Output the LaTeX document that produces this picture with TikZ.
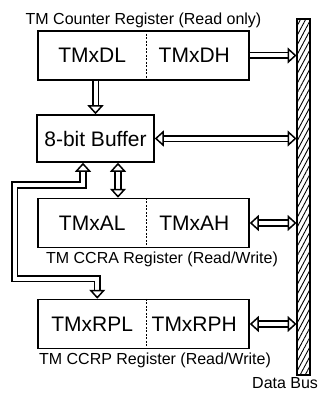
\documentclass[tikz,border=0pt]{standalone}
\usepackage{fontspec}
\setmainfont{Liberation Sans}
\usetikzlibrary{arrows.meta,calc,patterns.meta,positioning}
\newcommand{\regfont}{\fontsize{21}{23}\selectfont}
\newcommand{\lblfont}{\fontsize{16}{18}\selectfont}

\begin{document}
\begin{tikzpicture}[x=1pt,y=-1pt,
  regbox/.style={draw,line width=1.5pt,minimum width=211pt,minimum height=49pt,inner sep=0pt},
  bufbox/.style={draw,line width=1.5pt,minimum width=117pt,minimum height=47pt,inner sep=0pt,font=\regfont},
  busbar/.style={draw,line width=1.5pt,minimum width=13pt,minimum height=356pt,inner sep=0pt,
    pattern={Lines[angle=62,distance=4.5pt,line width=0.9pt]}},
  hollow/.style={draw,double=white,double distance=4pt,line width=1.6pt,line join=miter},
  tip/.tip={Triangle[fill=white,width=16pt,length=9pt,line width=1.5pt]},
  split/.style={line width=1.5pt,dash pattern=on 2pt off 1.5pt},
  regtxt/.style={font=\regfont,inner sep=0pt},
  lbl/.style={font=\lblfont,inner sep=0pt}]
  \useasboundingbox (0,0) rectangle (326,393);
  \node[busbar] (bus) at (303.5,197) {};
  \node[regbox] (cnt) at (143.5,55.5) {};
  \node[bufbox] (buffer) at (95.5,138.5) {8-bit Buffer};
  \node[regbox] (ccra) at (143.5,223) {};
  \node[regbox] (ccrp) at (143.5,324) {};
  \foreach \r/\lo/\hi in {cnt/TMxDL/TMxDH,ccra/TMxAL/TMxAH,ccrp/TMxRPL/TMxRPH}{
    \draw[split] ($(\r.north west)+(109,0)$) -- ($(\r.south west)+(109,0)$);
    \node[regtxt] (\r-lo) at ($(\r.west)+(55,0)$) {\lo};
    \node[regtxt] (\r-hi) at ($(\r.west)+(157,0)$) {\hi};
  }
  \node[lbl] (cnt-lbl) at (143.5,20) {TM Counter Register (Read only)};
  \node[lbl] (ccra-lbl) at (162,259) {TM CCRA Register (Read/Write)};
  \node[lbl] (ccrp-lbl) at (155,360) {TM CCRP Register (Read/Write)};
  \node[lbl,anchor=west] (bus-lbl) at (252,383) {Data Bus};
  \draw[hollow,-tip] (cnt.east) -- (bus.west |- cnt.east);
  \draw[hollow,tip-tip] (buffer.east) -- (bus.west |- buffer.east);
  \draw[hollow,tip-tip] (ccra.east) -- (bus.west |- ccra.east);
  \draw[hollow,tip-tip] (ccrp.east) -- (bus.west |- ccrp.east);
  \draw[hollow,-tip] (buffer.north |- cnt.south) -- (buffer.north);
  \coordinate (bufr) at ($(buffer.south)+(22.5,0)$);
  \coordinate (bufl) at ($(buffer.south)+(-12.5,0)$);
  \coordinate (rptop) at ($(ccrp.north west)+(60,0)$);
  \draw[hollow,tip-tip] (bufr) -- (bufr |- ccra.north);
  \draw[hollow,tip-tip] (rptop) -- ++(0,-20) -| (14.5,185) -| (bufl);
\end{tikzpicture}
\end{document}
